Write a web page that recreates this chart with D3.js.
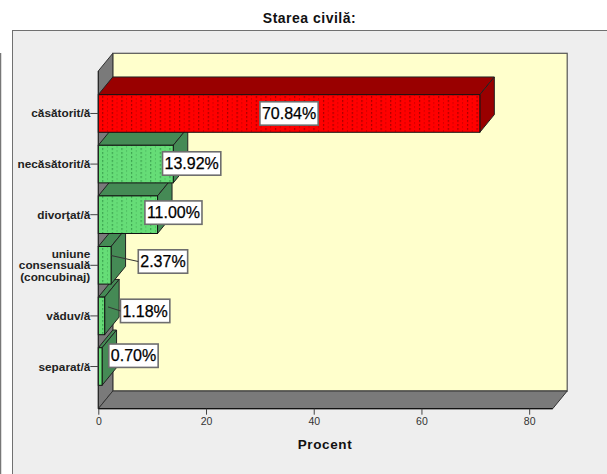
<!DOCTYPE html>
<html><head><meta charset="utf-8">
<script src="https://cdnjs.cloudflare.com/ajax/libs/d3/7.8.5/d3.min.js"></script>
<style>html,body{margin:0;padding:0;background:#fff}svg{display:block}text{font-family:"Liberation Sans",Arial,sans-serif}</style>
</head><body><svg id="c" width="607" height="474"></svg>
<script>
const categories = ["căsătorit/ă","necăsătorit/ă","divorţat/ă","uniune|consensuală|(concubinaj)","văduv/ă","separat/ă"];
const values = [70.84,13.92,11.00,2.37,1.18,0.70];
const xTicks = [0,20,40,60,80];
const chartTitle = "Starea civilă:";
const axisTitle = "Procent";
// label box offsets, relative to the bar end and the bar centre
const labelShiftX = [-190.8,18.4,15.9,51.9,40.5,31.4];
const labelShiftY = [0,-0.6,-2.1,-3.8,-5,-10.8];
const leaderFrom = [null,null,null,[0,-9.8],[3.3,-9],null];

const svg = d3.select("#c");
const X0=98.3, X1=552.7, YT=88.2, YB=391.8, FT=71, FB=408.7, DX=14.5, DY=17.7;
const x = d3.scaleLinear().domain([0,84.37]).range([X0,X1]);
const y = d3.scaleBand().domain(categories).range([YT,YB]).paddingInner(0.257).paddingOuter(0.128);

const defs = svg.append("defs");
function pat(id,bg,dot){
  const p = defs.append("pattern").attr("id",id).attr("patternUnits","userSpaceOnUse")
    .attr("width",9.6).attr("height",8).attr("x",X0).attr("y",YT);
  p.append("rect").attr("width",9.6).attr("height",8).attr("fill",bg);
  [[4,0,.9],[4,4,.9],[8.8,2,.45],[8.8,6,.45]].forEach(d=>p.append("rect").attr("x",d[0]).attr("y",d[1]).attr("width",1).attr("height",1.6).attr("fill",dot).attr("opacity",d[2]));
}
pat("pr","#ff0000","#660000");
pat("pg","#66dd77","#1f7a35");

svg.append("line").attr("x1",0.5).attr("x2",0.5).attr("y1",53).attr("y2",474).attr("stroke","#777").attr("stroke-width",1.5);
svg.append("rect").attr("x",12.5).attr("y",30.5).attr("width",600).attr("height",450).attr("fill","#eeeeee").attr("stroke","#707070");

const line = d3.line();
function poly(pts,fill,stroke="#222",sw=1){
  svg.append("path").attr("d",line(pts)+"Z").attr("fill",fill).attr("stroke",stroke).attr("stroke-width",sw).attr("stroke-linejoin","round");
}
// back wall, left wall, floor
svg.append("rect").attr("x",X0+DX).attr("y",FT-DY).attr("width",X1-X0).attr("height",FB-FT).attr("fill","#ffffcc").attr("stroke","#555").attr("stroke-width",1.2);
poly([[X0,FT],[X0+DX,FT-DY],[X0+DX,FB-DY],[X0,FB]],"#7a7a7a","#333");
poly([[X0,FB],[X0+DX,FB-DY],[X1+DX,FB-DY],[X1,FB]],"#7a7a7a","#333");

// bars, lowest first so upper bars overlap
const idx = d3.range(values.length).reverse();
idx.forEach(i=>{
  const c=categories[i], xe=x(values[i]), t=y(c), b=t+y.bandwidth();
  const side = i===0?"#990000":"#458a55";
  poly([[X0,t],[X0+DX,t-DY],[xe+DX,t-DY],[xe,t]],side);
  poly([[xe,t],[xe+DX,t-DY],[xe+DX,b-DY],[xe,b]],side);
  svg.append("rect").attr("x",X0).attr("y",t).attr("width",xe-X0).attr("height",b-t)
    .attr("fill",i===0?"url(#pr)":"url(#pg)").attr("stroke","#111").attr("stroke-width",1);
});
svg.append("line").attr("x1",X0).attr("x2",X0).attr("y1",FT).attr("y2",FB).attr("stroke","#222");
svg.append("line").attr("x1",X0).attr("x2",X1).attr("y1",FB).attr("y2",FB).attr("stroke","#111").attr("stroke-width",1.2);

// axes
const gx = svg.append("g").attr("transform",`translate(0,${FB})`)
  .call(d3.axisBottom(x).tickValues(xTicks).tickSize(6).tickPadding(3));
gx.select(".domain").remove();
gx.selectAll("line").attr("stroke","#444");
gx.selectAll("text").attr("font-size",10.5).attr("fill","#333").style("font-family",'"Liberation Sans",Arial,sans-serif');

const gy = svg.append("g").attr("transform",`translate(${X0},0)`)
  .call(d3.axisLeft(y).tickSize(8).tickPadding(0).tickFormat(""));
gy.select(".domain").remove();
gy.selectAll("line").attr("stroke","#444");
gy.selectAll(".tick").each(function(d){
  const parts=d.split("|"), t=d3.select(this).select("text").text(null)
    .attr("dy",null).attr("font-size",11.8).attr("font-weight","bold").attr("fill","#222").attr("text-anchor","end")
    .style("font-family",'"Liberation Sans",Arial,sans-serif');
  parts.forEach((s,k)=>t.append("tspan").attr("x",-8).attr("y",(k-(parts.length-1)/2)*11.7+4).text(s));
});

// data labels
values.forEach((v,i)=>{
  const c=categories[i], cx=x(v)+labelShiftX[i], cy=y(c)+y.bandwidth()/2+labelShiftY[i];
  const txt=v.toFixed(2)+"%";
  const g=svg.append("g");
  const r=g.append("rect");
  const t=g.append("text").attr("x",cx).attr("y",cy+5.7).attr("text-anchor","middle").attr("font-size",16).attr("fill","#000").attr("stroke","#000").attr("stroke-width",0.25).text(txt);
  const w=t.node().getComputedTextLength()+4, h=23.4;
  r.attr("x",cx-w/2).attr("y",cy-h/2).attr("width",w).attr("height",h).attr("fill","#fff").attr("stroke","#6e6e6e").attr("stroke-width",1.6);
  if(leaderFrom[i]){
    svg.append("line").attr("x1",x(v)+leaderFrom[i][0]).attr("y1",y(c)+y.bandwidth()/2+leaderFrom[i][1])
      .attr("x2",cx-w/2).attr("y2",cy).attr("stroke","#333");
  }
});

svg.append("text").attr("x",309.5).attr("y",23).attr("text-anchor","middle").attr("font-size",14).attr("font-weight","bold").attr("letter-spacing",0.5).attr("fill","#111").text(chartTitle);
svg.append("text").attr("x",325).attr("y",449).attr("text-anchor","middle").attr("font-size",13.5).attr("font-weight","bold").attr("letter-spacing",0.6).attr("fill","#111").text(axisTitle);
</script></body></html>
